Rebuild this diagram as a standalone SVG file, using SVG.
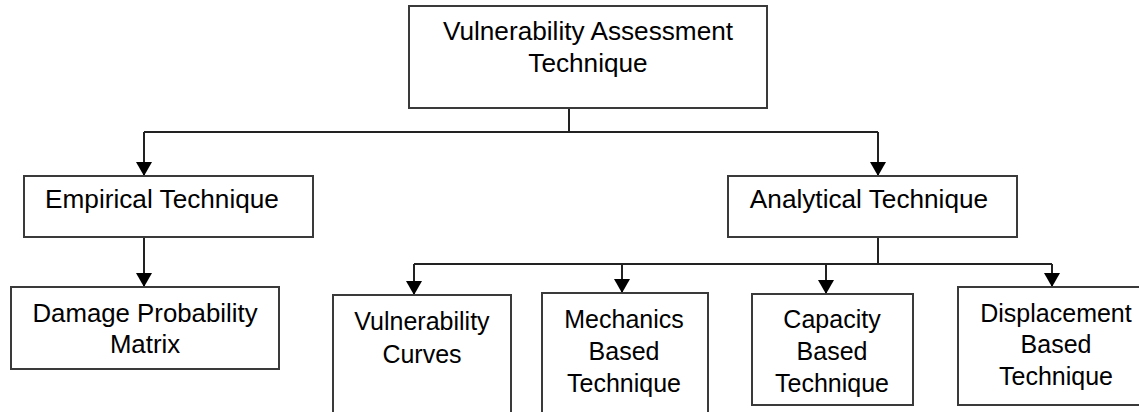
<svg xmlns="http://www.w3.org/2000/svg" width="1139" height="412" viewBox="0 0 1139 412">
<style>
.box{fill:#fff;stroke:#3a3a3a;stroke-width:2}
.lbl{font-family:"Liberation Sans",Arial,sans-serif;font-size:25px;fill:#000;text-anchor:middle}
.wide{font-size:26.2px}
.con{fill:none;stroke:#222;stroke-width:2}
</style>
<defs>
<marker id="arr" viewBox="0 0 14 16" refX="14" refY="8" markerWidth="14" markerHeight="16" markerUnits="userSpaceOnUse" orient="auto">
<path d="M0,0 L14,8 L0,16 z" fill="#000"/>
</marker>
</defs>
<rect width="1139" height="412" fill="#fff"/>
<g id="connectors">
<path class="con" d="M569,108 V132 M144,132 H878"/>
<path class="con" d="M144,132 V176" marker-end="url(#arr)"/>
<path class="con" d="M878,132 V176" marker-end="url(#arr)"/>
<path class="con" d="M144,237 V287" marker-end="url(#arr)"/>
<path class="con" d="M878,237 V264 M414,264 H1052"/>
<path class="con" d="M414,264 V295" marker-end="url(#arr)"/>
<path class="con" d="M622,264 V293" marker-end="url(#arr)"/>
<path class="con" d="M826,264 V294" marker-end="url(#arr)"/>
<path class="con" d="M1052,264 V287" marker-end="url(#arr)"/>
</g>
<g id="root">
<rect class="box" x="409" y="6" width="358" height="102"/>
<text class="lbl wide" x="588" y="40">Vulnerability Assessment</text>
<text class="lbl wide" x="588" y="72">Technique</text>
</g>
<g id="empirical">
<rect class="box" x="24" y="176" width="289" height="61"/>
<text class="lbl wide" x="162" y="208">Empirical Technique</text>
</g>
<g id="analytical">
<rect class="box" x="728" y="176" width="289" height="61"/>
<text class="lbl wide" x="869" y="208">Analytical Technique</text>
</g>
<g id="dpm">
<rect class="box" x="11" y="287" width="268" height="82"/>
<text class="lbl" x="145" y="322" style="font-size:25.8px">Damage Probability</text>
<text class="lbl" x="145" y="353" style="font-size:25.8px">Matrix</text>
</g>
<g id="vulncurves">
<rect class="box" x="333" y="295" width="178" height="130"/>
<text class="lbl" x="422" y="330">Vulnerability</text>
<text class="lbl" x="422" y="363">Curves</text>
</g>
<g id="mechanics">
<rect class="box" x="542" y="293" width="166" height="130"/>
<text class="lbl" x="624" y="328">Mechanics</text>
<text class="lbl" x="624" y="360">Based</text>
<text class="lbl" x="624" y="392">Technique</text>
</g>
<g id="capacity">
<rect class="box" x="752" y="294" width="161" height="111"/>
<text class="lbl" x="832" y="328">Capacity</text>
<text class="lbl" x="832" y="360">Based</text>
<text class="lbl" x="832" y="392">Technique</text>
</g>
<g id="displacement">
<rect class="box" x="958" y="287" width="200" height="118"/>
<text class="lbl" x="1056" y="322">Displacement</text>
<text class="lbl" x="1056" y="353">Based</text>
<text class="lbl" x="1056" y="385">Technique</text>
</g>
</svg>
